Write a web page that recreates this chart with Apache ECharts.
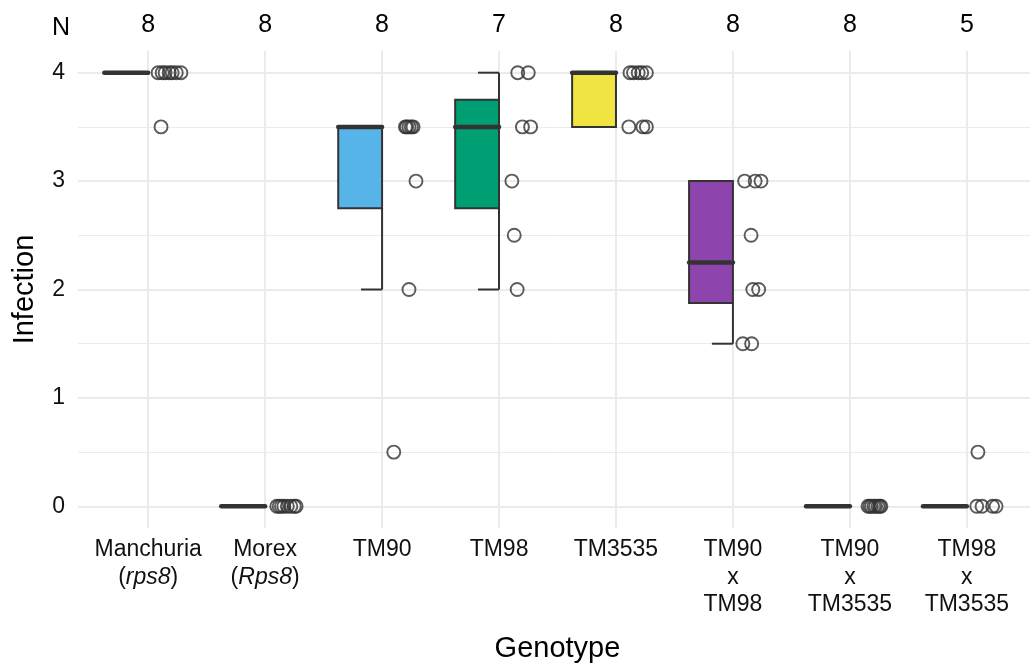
<!DOCTYPE html>
<html>
<head>
<meta charset="utf-8">
<script src="https://cdn.jsdelivr.net/npm/echarts@6/dist/echarts.min.js"></script>
<style>
  html, body { margin: 0; padding: 0; background: #fff; }
  #chart { width: 1030px; height: 664px; }
</style>
</head>
<body>
<div id="chart"></div>
<script>
// genotype labels ({i|...} = italic)
const genotypes = [
  'Manchuria\n({i|rps8})',
  'Morex\n({i|Rps8})',
  'TM90',
  'TM98',
  'TM3535',
  'TM90\nx\nTM98',
  'TM90\nx\nTM3535',
  'TM98\nx\nTM3535'
]
const counts = [8, 8, 8, 7, 8, 8, 8, 5]
const boxColors = ['#E69F00', '#999999', '#56B4E9', '#009E73', '#F0E442', '#8E44AD', '#0072B2', '#D55E00']

// box stats
const q1 = [4, 0, 2.75, 2.75, 3.5, 1.875, 0, 0]
const median = [4, 0, 3.5, 3.5, 4, 2.25, 0, 0]
const q3 = [4, 0, 3.5, 3.75, 4, 3, 0, 0]
const whiskerLow = [4, 0, 2, 2, 3.5, 1.5, 0, 0]
const whiskerHigh = [4, 0, 3.5, 4, 4, 3, 0, 0]

// observations: [jitter offset from genotype position, infection]
const manchuria = [[0.085, 4], [0.12, 4], [0.145, 4], [0.18, 4], [0.205, 4], [0.24, 4], [0.28, 4], [0.11, 3.5]]
const morex = [[0.10, 0], [0.12, 0], [0.14, 0], [0.16, 0], [0.19, 0], [0.22, 0], [0.25, 0], [0.265, 0]]
const tm90 = [[0.20, 3.5], [0.21, 3.5], [0.23, 3.5], [0.25, 3.5], [0.265, 3.5], [0.29, 3], [0.23, 2], [0.10, 0.5]]
const tm98 = [[0.16, 4], [0.25, 4], [0.20, 3.5], [0.27, 3.5], [0.11, 3], [0.13, 2.5], [0.155, 2]]
const tm3535 = [[0.12, 4], [0.15, 4], [0.19, 4], [0.22, 4], [0.26, 4], [0.11, 3.5], [0.23, 3.5], [0.26, 3.5]]
const tm90xtm98 = [[0.10, 3], [0.19, 3], [0.24, 3], [0.155, 2.5], [0.17, 2], [0.22, 2], [0.085, 1.5], [0.16, 1.5]]
const tm90xtm3535 = [[0.155, 0], [0.17, 0], [0.185, 0], [0.205, 0], [0.22, 0], [0.24, 0], [0.255, 0], [0.265, 0]]
const tm98xtm3535 = [[0.095, 0.5], [0.085, 0], [0.13, 0], [0.22, 0], [0.25, 0]]
const observations = [manchuria, morex, tm90, tm98, tm3535, tm90xtm98, tm90xtm3535, tm98xtm3535]

const yTicks = [0, 1, 2, 3, 4]
const yMinor = [0.5, 1.5, 2.5, 3.5]
const xPositions = genotypes.map((g, i) => i + 1)

const FONT = "'Liberation Sans', Arial, sans-serif"
const BOX_HALF = 0.375
const CAP = 0.18

const chart = echarts.init(document.getElementById('chart'))

const boxData = genotypes.map((g, i) => [i + 1, q1[i], median[i], q3[i], whiskerLow[i], whiskerHigh[i], i])
const pointData = []
observations.forEach((list, i) => {
  list.forEach(p => pointData.push([i + 1 + p[0], p[1]]))
})

const lineStyle = { stroke: '#333333', lineWidth: 2 }

function renderBox(params, api) {
  const x = api.value(0)
  const lo = api.value(1), med = api.value(2), hi = api.value(3)
  const wLo = api.value(4), wHi = api.value(5)
  const idx = api.value(6)
  const tl = api.coord([x - BOX_HALF, hi])
  const br = api.coord([x, lo])
  const children = []
  if (wHi > hi) {
    const a = api.coord([x, hi]), b = api.coord([x, wHi]), c = api.coord([x - CAP, wHi])
    children.push({ type: 'line', shape: { x1: a[0], y1: a[1], x2: b[0], y2: b[1] }, style: lineStyle })
    children.push({ type: 'line', shape: { x1: c[0], y1: c[1], x2: b[0], y2: b[1] }, style: lineStyle })
  }
  if (wLo < lo) {
    const a = api.coord([x, lo]), b = api.coord([x, wLo]), c = api.coord([x - CAP, wLo])
    children.push({ type: 'line', shape: { x1: a[0], y1: a[1], x2: b[0], y2: b[1] }, style: lineStyle })
    children.push({ type: 'line', shape: { x1: c[0], y1: c[1], x2: b[0], y2: b[1] }, style: lineStyle })
  }
  children.push({
    type: 'rect',
    shape: { x: tl[0], y: tl[1], width: br[0] - tl[0], height: br[1] - tl[1] },
    style: { fill: boxColors[idx], stroke: '#333333', lineWidth: 2 }
  })
  const m1 = api.coord([x - BOX_HALF, med]), m2 = api.coord([x, med])
  children.push({
    type: 'line',
    shape: { x1: m1[0], y1: m1[1], x2: m2[0], y2: m2[1] },
    style: { stroke: '#333333', lineWidth: 4.5, lineCap: 'round' }
  })
  return { type: 'group', children: children }
}

const gridLines = []
yTicks.forEach(v => gridLines.push({ yAxis: v, lineStyle: { width: 2 } }))
yMinor.forEach(v => gridLines.push({ yAxis: v, lineStyle: { width: 1 } }))
xPositions.forEach(v => gridLines.push({ xAxis: v, lineStyle: { width: 2 } }))

chart.setOption({
  animation: false,
  textStyle: { fontFamily: FONT },
  title: {
    text: 'N',
    left: 47,
    top: 11,
    textStyle: { fontFamily: FONT, fontSize: 25, fontWeight: 'normal', color: '#000' }
  },
  grid: { left: 78, right: -7, top: 51, bottom: 136, outerBoundsMode: 'none', containLabel: false },
  xAxis: [
    {
      type: 'value',
      min: 0.4,
      max: 8.6,
      name: 'Genotype',
      nameLocation: 'middle',
      nameGap: 106,
      nameTextStyle: { fontFamily: FONT, fontSize: 29, color: '#000', verticalAlign: 'top' },
      axisLine: { show: false },
      axisTick: { show: false },
      splitLine: { show: false },
      axisLabel: {
        customValues: xPositions,
        margin: 8,
        fontFamily: FONT,
        fontSize: 23,
        lineHeight: 27.5,
        color: '#111',
        formatter: v => genotypes[Math.round(v) - 1] || '',
        rich: { i: { fontStyle: 'italic', fontSize: 23, lineHeight: 27.5, color: '#111', fontFamily: FONT } }
      }
    },
    {
      type: 'value',
      position: 'top',
      min: 0.4,
      max: 8.6,
      axisLine: { show: false },
      axisTick: { show: false },
      splitLine: { show: false },
      axisLabel: {
        customValues: xPositions,
        margin: 13,
        fontFamily: FONT,
        fontSize: 25,
        color: '#000',
        formatter: v => String(counts[Math.round(v) - 1])
      }
    }
  ],
  yAxis: {
    type: 'value',
    min: -0.2,
    max: 4.2,
    name: 'Infection',
    nameLocation: 'middle',
    nameGap: 39,
    nameTextStyle: { fontFamily: FONT, fontSize: 29, color: '#000' },
    axisLine: { show: false },
    axisTick: { show: false },
    splitLine: { show: false },
    axisLabel: {
      customValues: yTicks,
      margin: 13,
      fontFamily: FONT,
      fontSize: 23,
      color: '#111'
    }
  },
  series: [
    {
      type: 'line',
      data: [[1, 0]],
      showSymbol: false,
      silent: true,
      z: 0,
      lineStyle: { opacity: 0 },
      markLine: {
        z: 0,
        silent: true,
        symbol: 'none',
        animation: false,
        label: { show: false },
        lineStyle: { color: '#ebebeb', type: 'solid' },
        emphasis: { disabled: true },
        data: gridLines
      }
    },
    {
      type: 'custom',
      z: 3,
      renderItem: renderBox,
      data: boxData,
      encode: { x: 0, y: [1, 2, 3, 4, 5] }
    },
    {
      type: 'scatter',
      z: 4,
      data: pointData,
      symbol: 'circle',
      symbolSize: 13,
      itemStyle: { color: 'rgba(0,0,0,0)', borderColor: '#333333', borderWidth: 1.9 }
    }
  ]
})
</script>
</body>
</html>
